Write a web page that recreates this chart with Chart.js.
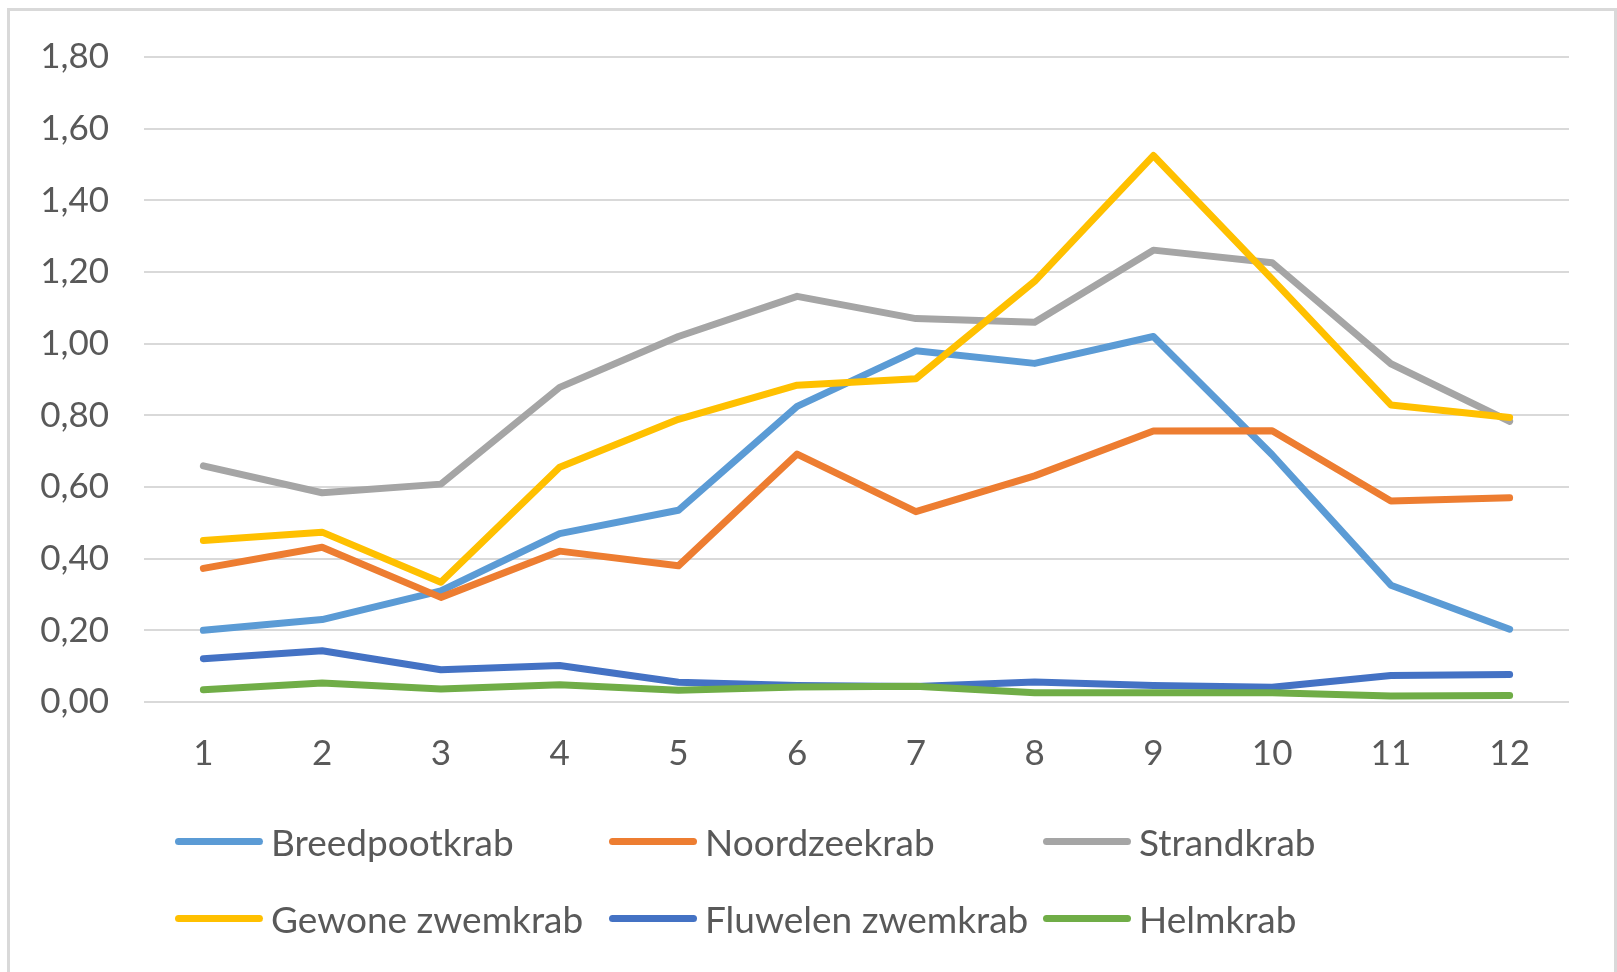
<!DOCTYPE html>
<html>
<head>
<meta charset="utf-8">
<script src="https://cdn.jsdelivr.net/npm/chart.js@4/dist/chart.umd.min.js"></script>
<style>
  body { margin: 0; background: #fff; }
  #wrap { position: relative; width: 1617px; height: 972px; overflow: hidden; background: #fff; }
  #frame { position: absolute; left: 7px; top: 8px; width: 1604px; height: 1000px; border: 3px solid #d9d9d9; }
  #chart { position: absolute; left: 0; top: 0; }
  #legend { position: absolute; left: 175px; top: 818px; display: grid;
    grid-template-columns: 434px 434px 434px; grid-auto-rows: 77px;
    font-family: Lato, "Open Sans", sans-serif; font-size: 37px; color: #595959; }
  .item { display: flex; align-items: center; height: 46px; white-space: nowrap; }
  .swatch { width: 88px; height: 7px; border-radius: 3.5px; margin-right: 8px; }
</style>
</head>
<body>
<div id="wrap">
  <canvas id="chart" width="1617" height="832"></canvas>
  <div id="frame"></div>
  <div id="legend"></div>
</div>
<script>
let months = ["1", "2", "3", "4", "5", "6", "7", "8", "9", "10", "11", "12"];
let yTickLabels = ["0,00", "0,20", "0,40", "0,60", "0,80", "1,00", "1,20", "1,40", "1,60", "1,80"];

let breedpootkrab = [0.20, 0.23, 0.31, 0.47, 0.535, 0.825, 0.98, 0.945, 1.02, 0.69, 0.326, 0.203];
let noordzeekrab = [0.373, 0.432, 0.292, 0.421, 0.38, 0.692, 0.531, 0.631, 0.756, 0.757, 0.561, 0.570];
let strandkrab = [0.659, 0.584, 0.608, 0.878, 1.02, 1.132, 1.070, 1.060, 1.261, 1.226, 0.944, 0.783];
let gewoneZwemkrab = [0.451, 0.474, 0.334, 0.655, 0.789, 0.884, 0.902, 1.174, 1.525, 1.18, 0.829, 0.794];
let fluwelenZwemkrab = [0.121, 0.143, 0.090, 0.102, 0.055, 0.046, 0.043, 0.056, 0.046, 0.041, 0.074, 0.077];
let helmkrab = [0.034, 0.053, 0.036, 0.048, 0.033, 0.042, 0.044, 0.026, 0.026, 0.026, 0.017, 0.018];

let seriesNames = ["Breedpootkrab", "Noordzeekrab", "Strandkrab", "Gewone zwemkrab", "Fluwelen zwemkrab", "Helmkrab"];
let seriesData = [breedpootkrab, noordzeekrab, strandkrab, gewoneZwemkrab, fluwelenZwemkrab, helmkrab];
let seriesColors = ["#5b9bd5", "#ed7d31", "#a5a5a5", "#ffc000", "#4472c4", "#70ad47"];

let datasets = seriesNames.map((name, i) => ({
  label: name,
  data: seriesData[i],
  borderColor: seriesColors[i],
  backgroundColor: seriesColors[i],
  borderWidth: 7,
  borderJoinStyle: "round",
  borderCapStyle: "round",
  pointRadius: 0,
  fill: false,
  tension: 0,
  // later series on top, like the original
  order: seriesNames.length - 1 - i
}));

let font = { family: "Lato, 'Open Sans', sans-serif", size: 35 };

new Chart(document.getElementById("chart"), {
  type: "line",
  data: { labels: months, datasets: datasets },
  options: {
    responsive: false,
    animation: false,
    layout: { padding: { top: 57, left: 39, right: 48, bottom: 26 } },
    plugins: { legend: { display: false }, tooltip: { enabled: false } },
    scales: {
      x: {
        offset: true,
        grid: { display: false, drawTicks: false },
        border: { display: false },
        ticks: { color: "#595959", font: font, padding: 31, maxRotation: 0 }
      },
      y: {
        min: 0,
        max: 1.8,
        afterFit: s => { s.width = 105; },
        grid: { color: "#d9d9d9", lineWidth: 2, drawTicks: false },
        border: { display: false },
        ticks: {
          stepSize: 0.2,
          color: "#595959",
          font: font,
          padding: 35,
          callback: (v, idx) => yTickLabels[idx]
        }
      }
    }
  }
});

let legend = document.getElementById("legend");
seriesNames.forEach((name, i) => {
  let item = document.createElement("div");
  item.className = "item";
  let sw = document.createElement("span");
  sw.className = "swatch";
  sw.style.background = seriesColors[i];
  let txt = document.createElement("span");
  txt.innerText = name;
  item.appendChild(sw);
  item.appendChild(txt);
  legend.appendChild(item);
});
</script>
</body>
</html>
